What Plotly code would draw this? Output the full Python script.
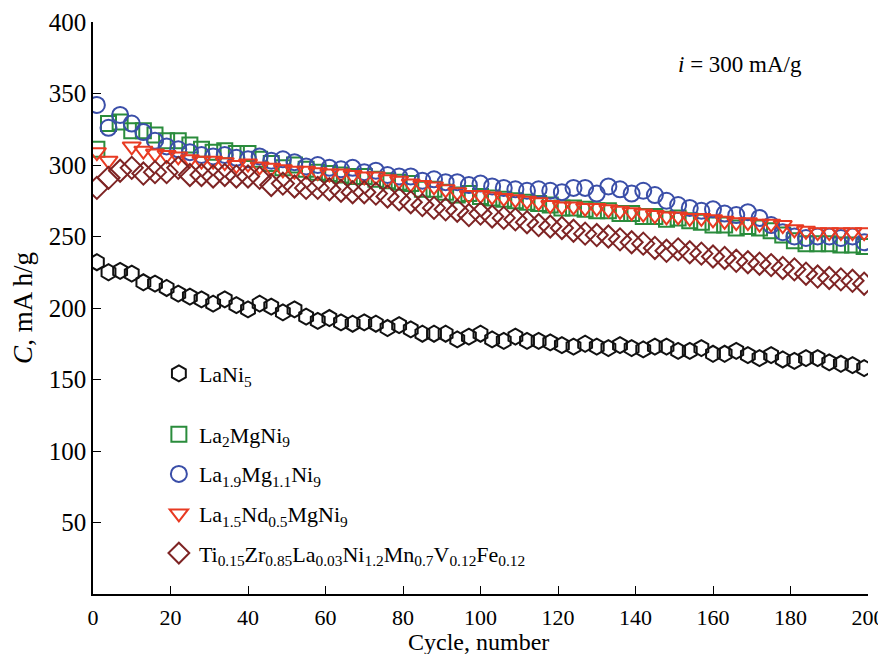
import plotly.graph_objects as go

cycles = [1, 4, 7, 10, 13, 16, 19, 22, 25, 28, 31, 34, 37, 40, 43, 46, 49, 52, 55, 58,
          61, 64, 67, 70, 73, 76, 79, 82, 85, 88, 91, 94, 97, 100, 103, 106, 109, 112, 115, 118,
          121, 124, 127, 130, 133, 136, 139, 142, 145, 148, 151, 154, 157, 160, 163, 166, 169, 172, 175, 178,
          181, 184, 187, 190, 193, 196, 199]

cycles_nd = [1, 4, 10, 13, 16, 19, 22, 25, 28, 31, 34, 37, 40, 43, 46, 49, 52, 55, 58,
             61, 64, 67, 70, 73, 76, 79, 82, 85, 88, 91, 94, 97, 100, 103, 106, 109, 112, 115, 118,
             121, 124, 127, 130, 133, 136, 139, 142, 145, 148, 151, 154, 157, 160, 163, 166, 169, 172, 175, 178,
             181, 184, 187, 190, 193, 196, 199]

lani5 = [232, 225, 226, 224, 218, 217, 214, 210, 208, 206, 203, 206, 202, 199, 203, 201, 197, 199, 194, 191,
         193, 190, 189, 190, 189, 186, 188, 185, 182, 182, 182, 178, 180, 182, 178, 177, 180, 177, 177, 176,
         174, 173, 175, 173, 172, 174, 172, 171, 173, 173, 170, 170, 172, 168, 168, 170, 167, 165, 167, 164,
         163, 165, 165, 162, 161, 160, 158]

la2mgni9 = [311, 329, 330, 324, 324, 321, 317, 317, 314, 311, 309, 310, 308, 308, 304, 301, 298, 300, 297, 295,
            294, 293, 292, 292, 290, 289, 288, 287, 283, 283, 281, 279, 280, 278, 277, 276, 275, 274, 273, 272,
            270, 270, 269, 268, 268, 266, 266, 264, 264, 262, 263, 261, 260, 258, 258, 256, 257, 256, 254, 251,
            247, 245, 245, 245, 244, 244, 243]

la19mg11ni9 = [342, 326, 335, 329, 323, 317, 313, 311, 309, 307, 306, 307, 305, 304, 306, 303, 304, 302, 299, 300,
               298, 297, 298, 295, 296, 293, 292, 292, 289, 290, 288, 288, 286, 287, 285, 284, 283, 282, 283, 282,
               281, 284, 284, 280, 285, 283, 280, 282, 279, 275, 272, 270, 268, 269, 266, 265, 267, 263, 258, 253,
               250, 249, 250, 250, 249, 250, 246]

la15nd05mgni9 = [309, 303, 313, 310, 308, 307, 306, 304, 303, 303, 302, 300, 301, 299, 298, 297, 296, 296, 295,
                 294, 294, 293, 292, 292, 290, 289, 287, 286, 285, 283, 281, 279, 279, 278, 277, 276, 275, 274, 272,
                 271, 271, 270, 270, 269, 268, 267, 266, 265, 264, 264, 263, 263, 262, 261, 260, 260, 259, 259, 258,
                 255, 254, 253, 253, 253, 253, 253]

tizr = [284, 291, 296, 298, 294, 295, 295, 298, 293, 293, 292, 293, 292, 292, 291, 286, 287, 285, 284, 284,
        283, 282, 281, 281, 280, 278, 276, 274, 272, 270, 269, 268, 265, 266, 264, 263, 262, 260, 258, 257,
        256, 254, 252, 251, 250, 248, 246, 245, 242, 240, 241, 239, 238, 236, 235, 233, 232, 231, 230, 228,
        227, 224, 222, 221, 220, 219, 217]

names = ["LaNi<sub>5</sub>",
         "La<sub>2</sub>MgNi<sub>9</sub>",
         "La<sub>1.9</sub>Mg<sub>1.1</sub>Ni<sub>9</sub>",
         "La<sub>1.5</sub>Nd<sub>0.5</sub>MgNi<sub>9</sub>",
         "Ti<sub>0.15</sub>Zr<sub>0.85</sub>La<sub>0.03</sub>Ni<sub>1.2</sub>Mn<sub>0.7</sub>V<sub>0.12</sub>Fe<sub>0.12</sub>"]

x_ticks = [0, 20, 40, 60, 80, 100, 120, 140, 160, 180, 200]
y_ticks = [50, 100, 150, 200, 250, 300, 350, 400]

series = [
    (cycles, lani5, "hexagon-open", "#111111", 16, "legend"),
    (cycles, la2mgni9, "square-open", "#2a8c3c", 15, "legend2"),
    (cycles, la19mg11ni9, "circle-open", "#3a4ea8", 16, "legend2"),
    (cycles_nd, la15nd05mgni9, "triangle-down-open", "#e83a22", 16, "legend2"),
    (cycles, tizr, "diamond-open", "#7e2424", 17, "legend2"),
]

fig = go.Figure()
for i, ((xs, ys, sym, col, sz, lg), nm) in enumerate(zip(series, names)):
    fig.add_trace(go.Scatter(
        x=xs, y=ys, mode="markers", name=nm, legendgroup=f"g{i}", legend=lg,
        marker=dict(symbol=sym, size=sz, color=col, line=dict(width=2, color=col)),
    ))

font_family = "Liberation Serif, Times New Roman, serif"
legend_font = dict(family=font_family, size=22, color="black")
# page body has an 8px margin; figure sized to fit the 886x654 window
fig.update_layout(
    width=878, height=646,
    margin=dict(l=85, r=18, t=14, b=60),
    paper_bgcolor="white", plot_bgcolor="white",
    font=dict(family=font_family, color="black", size=22),
    showlegend=True,
    legend=dict(x=0.085, y=0.422, xanchor="left", yanchor="top", font=legend_font,
                bgcolor="rgba(0,0,0,0)", itemwidth=30),
    legend2=dict(x=0.085, y=0.3156, xanchor="left", yanchor="top", font=legend_font,
                 bgcolor="rgba(0,0,0,0)", tracegroupgap=8, itemwidth=30),
    xaxis=dict(range=[0, 200], tickvals=x_ticks, ticks="inside", ticklen=8, tickcolor="black",
               showline=True, linecolor="black", linewidth=1.5, showgrid=False, zeroline=False,
               automargin=False, ticklabelstandoff=3,
               tickfont=dict(size=22)),
    yaxis=dict(range=[0, 400], tickvals=y_ticks, ticks="inside", ticklen=8, tickcolor="black",
               showline=True, linecolor="black", linewidth=1.5, showgrid=False, zeroline=False,
               automargin=False,
               tickfont=dict(size=25), title=dict(text="<i>C</i>, mA h/g", font=dict(size=27), standoff=8)),
    annotations=[
        dict(x=0.835, y=0.925, xref="paper", yref="paper", showarrow=False,
             xanchor="center", yanchor="middle",
             text="<i>i</i> = 300 mA/g", font=dict(family=font_family, size=23, color="black")),
        dict(x=0.497, y=-0.109, xref="paper", yref="paper", showarrow=False,
             xanchor="center", yanchor="bottom", borderpad=0,
             text="Cycle, number", font=dict(family=font_family, size=24, color="black")),
    ],
)

fig.write_html("out.html")
